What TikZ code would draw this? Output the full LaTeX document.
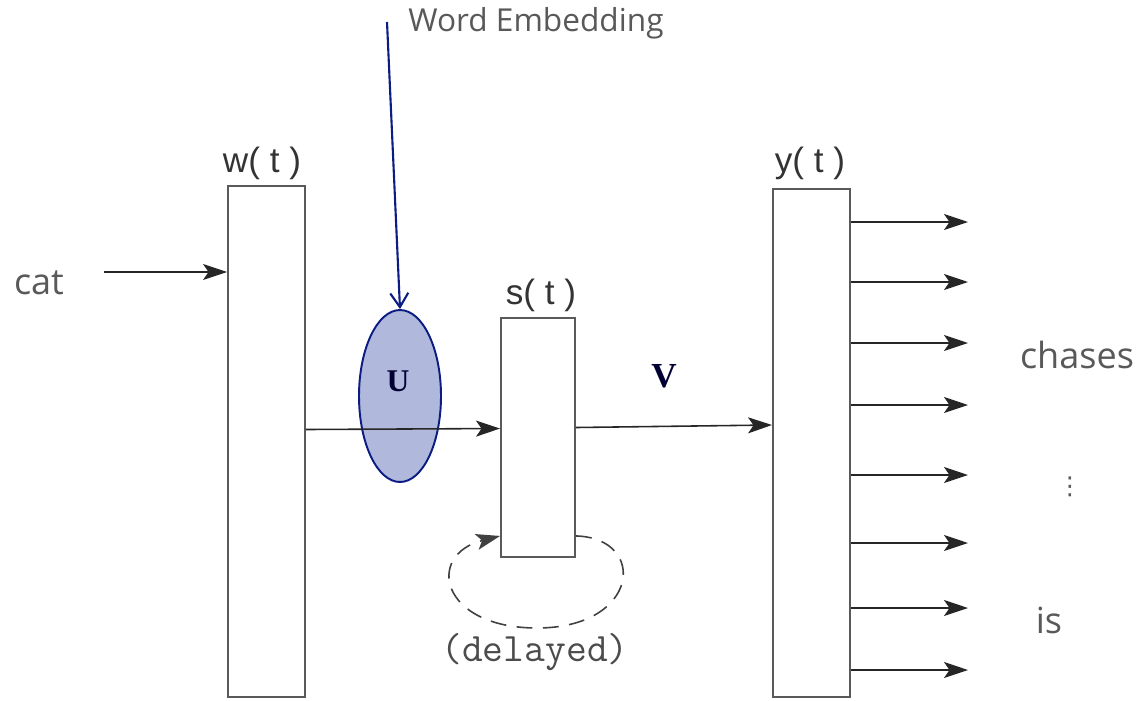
\documentclass[tikz,border=0pt]{standalone}
\usepackage{fontspec}
\usepackage{xcolor}
\usepackage{tikz}
\usetikzlibrary{arrows.meta, positioning, calc, shapes.geometric}
\newfontfamily\boxfont{Liberation Sans}
\newfontfamily\wordfont{Open Sans}
\newfontfamily\weightfont{Liberation Serif}
\newfontfamily\symfont{DejaVu Sans}
\definecolor{rnngray}{HTML}{5A5A5A}
\definecolor{wordgray}{HTML}{595959}
\definecolor{embnavy}{HTML}{0B1C82}
\definecolor{embfill}{HTML}{B0B8DC}

\begin{document}
\begin{tikzpicture}[x=0.02cm, y=-0.02cm,
  layer/.style={draw=rnngray, line width=1.1pt, fill=white, inner sep=0pt},
  arr/.style={-{Stealth[length=4.8mm, width=3.2mm, inset=1.1mm]}, line width=0.9pt, black!85},
  boxlabel/.style={font=\boxfont\fontsize{20}{22}\selectfont, text=black!80},
  weight/.style={font=\weightfont\bfseries\fontsize{20}{20}\selectfont, text=black!80!blue},
  word/.style={font=\wordfont\fontsize{20.5}{24}\selectfont, text=wordgray}]
\useasboundingbox (0,0) rectangle (1142,700);
% layers
\node[layer, minimum width=1.54cm, minimum height=10.22cm] (wbox) at (266.5,441.5) {};
\node[layer, minimum width=1.48cm, minimum height=4.78cm] (sbox) at (538,437.5) {};
\node[layer, minimum width=1.54cm, minimum height=10.16cm] (ybox) at (811.5,443) {};
\node[boxlabel] (wlab) at (262,163) {w( t )};
\node[boxlabel] (slab) at (541,295) {s( t )};
\node[boxlabel] (ylab) at (810,163) {y( t )};
% input word
\node[word] (cat) at (39,283) {cat};
\coordinate (catin) at (104,272);
\draw[arr] (catin) -- (catin -| wbox.west);
% embedding
\node[ellipse, draw=embnavy, fill=embfill, line width=1.1pt, inner sep=0pt,
  minimum width=1.64cm, minimum height=3.44cm] (emb) at (400,396) {};
\node[weight, font=\weightfont\bfseries\fontsize{18}{20}\selectfont] (ulab) at (398,381) {U};
\draw[arr] ($(wbox.east)+(0,-12)$) -- ($(sbox.west)+(0,-9)$);
\node[font=\wordfont\fontsize{18}{20}\selectfont, text=wordgray] (embtxt) at (536,23) {Word Embedding};
\coordinate (embtop) at (387,22);
\draw[-{Straight Barb[length=2.8mm, width=3.6mm]}, embnavy, line width=1.2pt] (embtop) -- (emb.north);
% hidden to output
\draw[arr] ($(sbox.east)+(0,-10)$) -- ($(ybox.west)+(0,-18)$);
\node[weight] (vlab) at (664,376) {V};
% recurrence
\coordinate (loopbot) at (537,628);
\draw[arr, black!75, dash pattern=on 9pt off 6pt]
  ($(sbox.south east)+(0,-22)$) .. controls (648,538) and (640,628) .. (loopbot)
  .. controls (440,628) and (425,555) .. ($(sbox.south west)+(0,-22)$);
\node[font=\ttfamily\fontsize{23}{23}\selectfont, text=black!70] (delay) at (535,652) {(delayed)};
% outputs
\foreach \oy [count=\i] in {222,282,343,405,475,543,608,670} {
  \coordinate (out\i) at (968,\oy);
  \draw[arr] (ybox.east |- out\i) -- (out\i);
}
\node[word] (chases) at (1077,355) {chases};
\node[font=\symfont\fontsize{14}{14}\selectfont, text=wordgray] (dots) at (1070,487) {⋮};
\node[word] (is) at (1049,620) {is};
\end{tikzpicture}
\end{document}
